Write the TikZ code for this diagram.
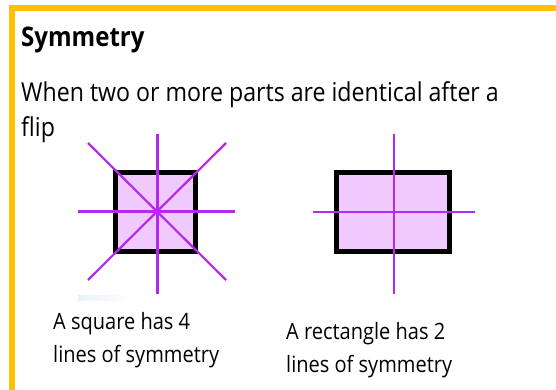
\documentclass[tikz,border=0pt]{standalone}
\usepackage{fontspec}
\setmainfont{Open Sans}[FakeStretch=0.89]
\definecolor{frameyellow}{RGB}{255,192,0}
\definecolor{symline}{RGB}{180,40,240}
\definecolor{shapefill}{RGB}{240,202,255}
\definecolor{fadeblue}{RGB}{232,242,252}
\tikzset{
  shapebox/.style={draw=black, line width=5pt, fill=shapefill},
  symaxis/.style={draw=symline, line width=2.2pt},
  bodytext/.style={anchor=base west, inner sep=0pt, font=\fontsize{26}{31}\selectfont},
  captext/.style={anchor=base west, inner sep=0pt, font=\fontsize{22.5}{27}\selectfont, align=left},
}
\begin{document}
\begin{tikzpicture}[x=1pt,y=-1pt]
\useasboundingbox (0,0) rectangle (556,390);
\fill[white] (0,0) rectangle (556,390);
% frame
\fill[frameyellow] (9,5) rectangle (556,11);
\fill[frameyellow] (9,5) rectangle (15,390);
% texts
\node[anchor=base west, inner sep=0pt, font=\fontsize{27}{32}\selectfont\bfseries] (title) at (21,47) {Symmetry};
\node[bodytext] (line1) at (21,102) {When two or more parts are identical after a};
\node[bodytext] (line2) at (21,137) {flip};
% faint bar
\shade[left color=fadeblue, right color=white] (78,295) rectangle (132,300);
% square
\node[shapebox, minimum width=80pt, minimum height=79pt, inner sep=0pt] (sq) at (155.5,212) {};
\coordinate (sqT) at (157.5,134); \coordinate (sqB) at (157.5,294);
\coordinate (sqL) at (78,211.5); \coordinate (sqR) at (235,211.5);
\coordinate (sqTL) at (88,143); \coordinate (sqBR) at (226,280);
\coordinate (sqTR) at (226,143); \coordinate (sqBL) at (88,280);
\draw[symaxis] (sqT) -- (sqB);
\draw[symaxis] (sqL) -- (sqR);
\draw[symaxis] (sqTL) -- (sqBR);
\draw[symaxis] (sqTR) -- (sqBL);
% rectangle
\node[shapebox, minimum width=113pt, minimum height=79pt, inner sep=0pt] (rc) at (393,212) {};
\coordinate (rcT) at (394,134); \coordinate (rcB) at (394,294);
\coordinate (rcL) at (313,212); \coordinate (rcR) at (475,212);
\draw[symaxis] (rcT) -- (rcB);
\draw[symaxis] (rcL) -- (rcR);
% captions
\node[captext] (cap1a) at (53,329) {A square has 4};
\node[captext] (cap1b) at (53,362) {lines of symmetry};
\node[captext] (cap2a) at (286,339) {A rectangle has 2};
\node[captext] (cap2b) at (286,372) {lines of symmetry};
\end{tikzpicture}
\end{document}
